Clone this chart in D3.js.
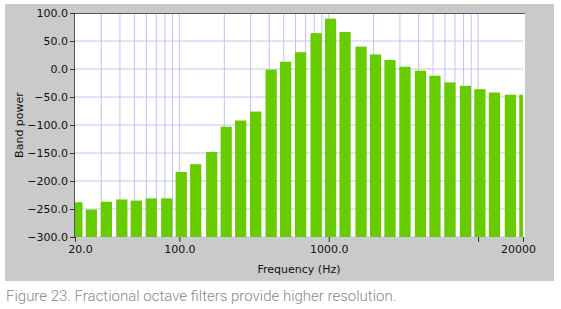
<!DOCTYPE html>
<html>
<head>
<meta charset="utf-8">
<script src="https://cdn.jsdelivr.net/npm/d3@7"></script>
<style>
  body { margin: 0; background: #fff; }
  svg { display: block; }
</style>
</head>
<body>
<div id="chart"></div>
<script>
// 1/3 octave band centres (Hz) and band power
var freqs = [20, 25, 31.5, 40, 50, 63, 80, 100, 125, 160, 200, 250, 315, 400, 500, 630,
  800, 1000, 1250, 1600, 2000, 2500, 3150, 4000, 5000, 6300, 8000, 10000, 12500, 16000, 20000];
var power = [-238, -251, -237, -233, -235, -231, -231, -184, -170, -148, -103, -92, -76, -1, 13, 30,
  64, 90, 66, 40, 26, 16, 4, -3, -12, -24, -30, -36, -42, -46, -46];

var yTicks = [100, 50, 0, -50, -100, -150, -200, -250, -300];
var xTicks = [20, 100, 1000, 10000, 20000];
var xTickLabels = ["20.0", "100.0", "1000.0", "", "20000"];
var xGrid = [30, 40, 50, 60, 70, 80, 90, 100, 200, 300, 400, 500, 600, 700, 800, 900,
  1000, 2000, 3000, 4000, 5000, 6000, 7000, 8000, 9000, 10000];

var W = 561, H = 309;
var margin = { top: 13, right: 38, bottom: 72, left: 75 },
  width = W - margin.left - margin.right,
  height = H - margin.top - margin.bottom;

var svg = d3.select("#chart").append("svg").attr("width", W).attr("height", H);

// gray panel
svg.append("rect").attr("x", 5).attr("y", 4).attr("width", 549).attr("height", 277)
  .attr("fill", "#cacaca");

var g = svg.append("g").attr("transform", "translate(" + margin.left + "," + margin.top + ")");

var x = d3.scaleLog().domain([20, 20000]).range([0, width]);
var y = d3.scaleLinear().domain([-300, 100]).range([height, 0]);

g.append("rect").attr("width", width + 2).attr("height", height).attr("fill", "#fff");

g.append("clipPath").attr("id", "clip").append("rect")
  .attr("width", width).attr("height", height);

// grid
g.selectAll(".vgrid").data(xGrid).enter().append("line")
  .attr("x1", (d) => x(d)).attr("x2", (d) => x(d))
  .attr("y1", 0).attr("y2", height)
  .attr("stroke", "#c2c2f4").attr("stroke-width", 1);

g.selectAll(".hgrid").data(yTicks).enter().append("line")
  .attr("x1", 0).attr("x2", width)
  .attr("y1", (d) => y(d)).attr("y2", (d) => y(d))
  .attr("stroke", "#c2c2f4").attr("stroke-width", 1);

// bars span each band, leaving a gap at the low edge
var step = Math.pow(2, 1 / 6);
g.append("g").attr("clip-path", "url(#clip)")
  .selectAll(".bar").data(freqs).enter().append("rect")
  .attr("x", (d) => x(d / step) + 0.25 * (x(d * step) - x(d / step)))
  .attr("width", (d) => 0.75 * (x(d * step) - x(d / step)))
  .attr("y", (d, i) => y(power[i]))
  .attr("height", (d, i) => height - y(power[i]))
  .attr("fill", "#66cc00");

// frame lines
g.append("line").attr("x1", 0).attr("x2", width + 2).attr("y1", 0.5).attr("y2", 0.5)
  .attr("stroke", "#555");
g.append("line").attr("x1", -0.5).attr("x2", -0.5).attr("y1", 0).attr("y2", height)
  .attr("stroke", "#555");

var font = "'DejaVu Sans', Verdana, sans-serif";

// y axis
var yAxis = g.append("g")
  .call(d3.axisLeft(y).tickValues(yTicks).tickFormat(d3.format(".1f")).tickSize(5).tickPadding(2));
yAxis.select(".domain").remove();
yAxis.selectAll("line").attr("stroke", "#333");
yAxis.selectAll("text").style("font-family", font).style("font-size", "11px").attr("fill", "#111");

// x axis
var xAxis = g.append("g").attr("transform", "translate(0," + height + ")")
  .call(d3.axisBottom(x).tickValues(xTicks).tickFormat((d, i) => xTickLabels[i]).tickSize(5).tickPadding(3));
xAxis.select(".domain").remove();
xAxis.selectAll("line").attr("stroke", "#333");
xAxis.selectAll("text").style("font-family", font).style("font-size", "11px").attr("fill", "#111")
  .attr("dx", (d, i) => (i === 0 ? 5 : i === xTicks.length - 1 ? -5 : 0));

// axis titles
g.append("text")
  .attr("x", width / 2).attr("y", height + 36)
  .attr("text-anchor", "middle")
  .style("font-family", font).style("font-size", "11px").attr("fill", "#111")
  .text("Frequency (Hz)");

g.append("text")
  .attr("transform", "translate(" + (-52) + "," + height / 2 + ") rotate(-90)")
  .attr("text-anchor", "middle")
  .style("font-family", font).style("font-size", "11px").attr("fill", "#111")
  .text("Band power");

// caption
svg.append("text")
  .attr("x", 6).attr("y", 301)
  .style("font-family", "Roboto, sans-serif").style("font-size", "15px").style("font-weight", 300)
  .attr("fill", "#888")
  .text("Figure 23. Fractional octave filters provide higher resolution.");
</script>
</body>
</html>
